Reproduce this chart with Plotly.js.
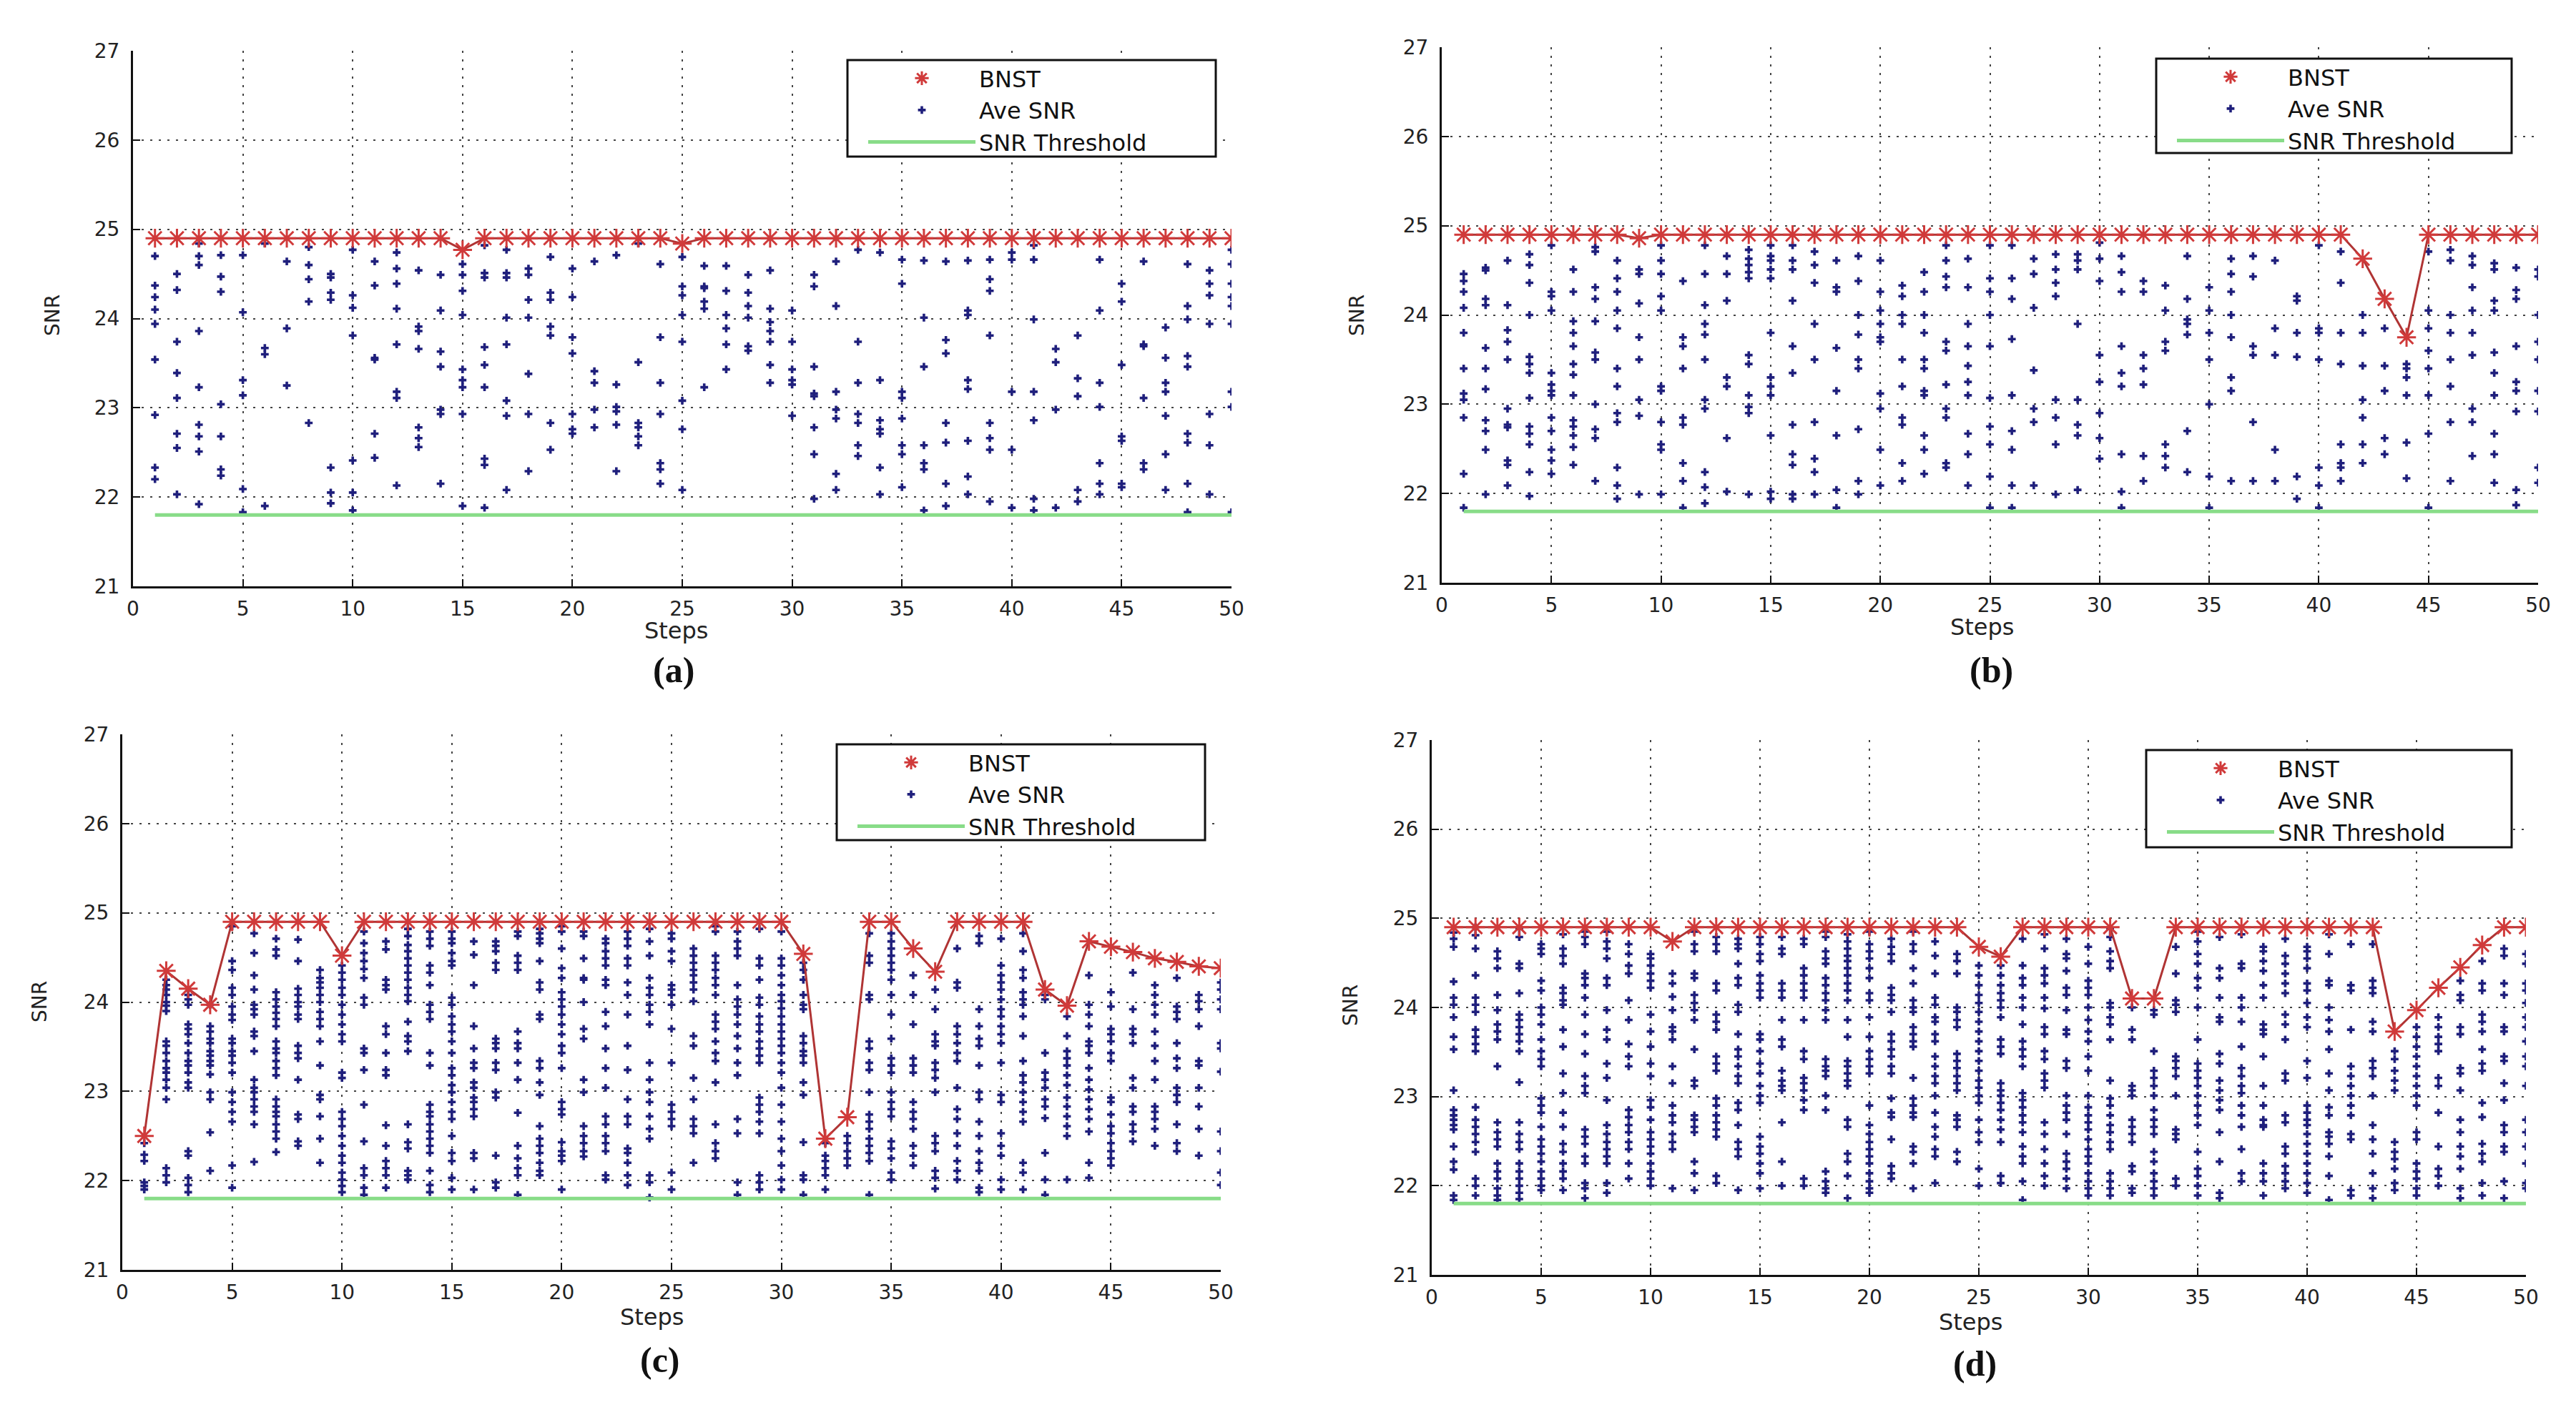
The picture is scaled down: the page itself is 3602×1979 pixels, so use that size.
<!DOCTYPE html>
<html>
<head>
<meta charset="utf-8">
<script src="https://cdn.plot.ly/plotly-3.0.1.min.js"></script>
<style>
  html, body { margin: 0; padding: 0; background: #fff; }
  #chart { width: 3602px; height: 1979px; }
</style>
</head>
<body>
<div id="chart"></div>
<script>
// -----------------------
// Data
// -----------------------
const steps = [1,2,3,4,5,6,7,8,9,10,11,12,13,14,15,16,17,18,19,20,21,22,23,24,25,
               26,27,28,29,30,31,32,33,34,35,36,37,38,39,40,41,42,43,44,45,46,47,48,49,50];
const xTicks = [0,5,10,15,20,25,30,35,40,45,50];
const yTicks = [21,22,23,24,25,26,27];
const snrThreshold = [21.8, 21.8];
const thresholdSteps = [1, 50];

const bnstA = [24.9,24.9,24.9,24.9,24.9,24.9,24.9,24.9,24.9,24.9,24.9,24.9,24.9,24.9,24.77,
               24.9,24.9,24.9,24.9,24.9,24.9,24.9,24.9,24.9,24.84,24.9,24.9,24.9,24.9,24.9,
               24.9,24.9,24.9,24.9,24.9,24.9,24.9,24.9,24.9,24.9,24.9,24.9,24.9,24.9,24.9,
               24.9,24.9,24.9,24.9,24.9];
const bnstB = [24.9,24.9,24.9,24.9,24.9,24.9,24.9,24.9,24.86,24.9,24.9,24.9,24.9,24.9,24.9,
               24.9,24.9,24.9,24.9,24.9,24.9,24.9,24.9,24.9,24.9,24.9,24.9,24.9,24.9,24.9,
               24.9,24.9,24.9,24.9,24.9,24.9,24.9,24.9,24.9,24.9,24.9,24.63,24.18,23.75,24.9,
               24.9,24.9,24.9,24.9,24.9];
const bnstC = [22.50,24.35,24.15,23.97,24.9,24.9,24.9,24.9,24.9,24.52,
               24.9,24.9,24.9,24.9,24.9,24.9,24.9,24.9,24.9,24.9,
               24.9,24.9,24.9,24.9,24.9,24.9,24.9,24.9,24.9,24.9,
               24.54,22.47,22.71,24.9,24.9,24.60,24.34,24.9,24.9,24.9,
               24.9,24.14,23.96,24.68,24.62,24.56,24.49,24.45,24.40,24.38];
const bnstD = [24.9,24.9,24.9,24.9,24.9,24.9,24.9,24.9,24.9,24.9,
               24.74,24.9,24.9,24.9,24.9,24.9,24.9,24.9,24.9,24.9,
               24.9,24.9,24.9,24.9,24.68,24.57,24.9,24.9,24.9,24.9,
               24.9,24.10,24.10,24.9,24.9,24.9,24.9,24.9,24.9,24.9,
               24.9,24.9,24.9,23.73,23.97,24.22,24.45,24.70,24.9,24.9];

// Ave SNR: one list of values per step
const aveA = [
  [24.70,24.37,24.24,24.10,23.94,23.54,22.92,22.33,22.20],
  [24.50,24.32,23.74,23.39,23.11,22.71,22.55,22.03],
  [24.84,24.70,24.60,23.86,23.23,22.81,22.68,22.51,21.92],
  [24.71,24.47,24.30,23.04,22.68,22.31,22.24],
  [24.71,24.07,23.31,23.14,22.09,21.83],
  [24.84,23.67,23.60,21.90],
  [24.64,23.89,23.25],
  [24.80,24.60,24.44,24.19,22.83],
  [24.50,24.46,24.29,24.21,22.33,22.05,21.93],
  [24.77,24.26,24.12,23.81,22.41,22.05,21.85],
  [24.64,24.37,23.56,23.54,22.71,22.44],
  [24.74,24.56,24.39,24.11,23.71,23.18,23.11,22.13],
  [24.54,23.91,23.86,23.66,22.78,22.66,22.56],
  [24.49,24.09,23.63,23.46,22.98,22.93,22.15],
  [24.61,24.49,24.31,24.04,23.43,23.31,23.23,22.93,21.90],
  [24.82,24.51,24.46,23.68,23.48,23.23,22.43,22.36,21.88],
  [24.77,24.51,24.46,24.01,23.71,23.08,22.91,22.08],
  [24.56,24.49,24.21,24.01,23.38,22.93,22.29],
  [24.69,24.29,24.21,23.91,23.81,22.83,22.53],
  [24.56,24.24,23.79,23.61,22.93,22.76,22.71],
  [24.64,23.41,23.28,22.98,22.78],
  [24.71,23.26,23.01,22.96,22.81,22.29],
  [24.84,23.51,22.83,22.78,22.68,22.58],
  [24.61,23.79,23.28,22.93,22.38,22.31,22.15],
  [24.69,24.36,24.26,24.04,23.74,23.08,22.76,22.08],
  [24.59,24.36,24.34,24.19,24.11,23.23],
  [24.59,24.31,24.04,23.89,23.71,23.43],
  [24.49,24.29,24.14,24.01,23.69,23.64],
  [24.54,24.11,23.96,23.86,23.74,23.48,23.28],
  [24.09,23.74,23.43,23.31,23.26,22.91],
  [24.49,24.36,23.46,23.16,23.13,22.78,22.48,21.98],
  [24.64,24.14,23.18,22.98,22.88,22.26,22.08],
  [24.77,23.74,23.28,22.93,22.83,22.58,22.46],
  [24.74,23.31,22.86,22.76,22.71,22.33,22.03],
  [24.66,24.39,23.18,23.11,22.88,22.58,22.48,22.11],
  [24.65,24.01,23.46,22.58,22.38,22.31,21.85],
  [24.64,23.76,23.61,22.83,22.61,22.15,21.90],
  [24.65,24.09,24.04,23.31,23.21,22.63,22.23,22.03],
  [24.66,24.44,24.31,23.81,22.83,22.66,22.53,21.95],
  [24.74,24.66,23.18,22.53,21.88],
  [24.82,24.66,23.99,23.18,22.86,21.98,21.85],
  [23.66,23.51,22.98,21.88],
  [23.81,23.33,23.13,22.08,21.95],
  [24.66,24.09,23.28,23.01,22.38,22.15,22.03],
  [24.39,24.19,23.48,22.68,22.63,22.15,22.11],
  [24.64,23.71,23.69,23.11,22.38,22.31],
  [23.90,23.56,23.28,23.18,22.91,22.48,22.08],
  [24.61,24.14,23.99,23.58,23.46,22.71,22.61,22.15,21.83],
  [24.54,24.39,24.26,23.94,22.93,22.58,22.03],
  [24.77,24.61,24.39,24.24,24.14,23.94,23.18,23.01,21.83]
];

const aveB = [
  [24.46,24.38,24.26,24.08,23.80,23.40,23.12,23.05,22.85,22.22,21.84],
  [24.53,24.50,24.18,24.11,23.63,23.40,23.17,22.82,22.70,22.49,21.99],
  [24.61,24.11,23.83,23.70,23.50,22.95,22.77,22.74,22.37,22.32,22.09],
  [24.68,24.56,24.36,24.00,23.53,23.45,23.35,23.07,22.75,22.67,22.55,22.24,21.97],
  [24.78,24.26,24.21,24.05,23.35,23.22,23.15,23.10,22.85,22.70,22.49,22.37,22.22],
  [24.51,24.26,23.93,23.80,23.65,23.45,23.33,23.10,22.82,22.75,22.65,22.52,22.32],
  [24.76,24.71,24.31,24.18,23.93,23.58,23.50,23.00,22.72,22.62,22.14],
  [24.61,24.41,24.26,24.05,23.85,23.40,23.20,22.90,22.80,22.29,22.09,21.94],
  [24.51,24.46,24.13,23.75,23.50,23.05,22.87,21.99],
  [24.78,24.61,24.46,24.21,24.05,23.20,23.15,22.80,22.55,22.49,21.99],
  [24.38,23.75,23.65,23.40,22.85,22.77,22.34,22.14,21.84],
  [24.78,24.46,24.11,23.90,23.78,23.50,23.05,22.95,22.24,22.07,21.89],
  [24.66,24.46,24.16,23.30,23.20,22.62,22.02],
  [24.73,24.63,24.56,24.48,24.41,23.55,23.45,23.10,22.97,22.90,21.99],
  [24.78,24.66,24.61,24.51,24.41,23.80,23.30,23.20,23.10,22.65,22.02,21.94],
  [24.78,24.61,24.51,24.16,23.65,23.35,22.77,22.44,22.32,21.99,21.94],
  [24.71,24.56,24.36,23.90,23.50,22.80,22.39,22.24,21.99],
  [24.61,24.31,24.26,23.63,23.15,22.65,22.04,21.84],
  [24.66,24.38,24.00,23.78,23.50,23.40,22.72,22.14,21.99],
  [24.61,24.26,24.05,23.90,23.75,23.70,23.12,22.95,22.49,22.09],
  [24.33,24.21,24.00,23.90,23.50,23.20,22.85,22.77,22.34,22.14],
  [24.48,24.26,24.00,23.80,23.50,23.40,23.15,23.10,22.65,22.49,22.22],
  [24.78,24.61,24.43,24.31,23.70,23.60,23.22,22.95,22.85,22.34,22.29],
  [24.63,24.31,23.90,23.65,23.43,23.25,23.10,22.67,22.44,22.09],
  [24.78,24.41,24.26,24.00,23.65,23.07,22.75,22.55,22.19,21.84],
  [24.78,24.41,24.18,23.73,23.10,22.70,22.49,22.09,21.84],
  [24.63,24.46,24.08,23.38,22.95,22.80,22.09],
  [24.68,24.51,24.36,24.21,23.05,22.85,22.55,21.99],
  [24.68,24.61,24.51,23.90,23.05,22.77,22.65,22.04],
  [24.81,24.63,24.38,23.55,23.25,22.90,22.62,22.39],
  [24.66,24.48,24.26,23.65,23.35,23.20,22.44,22.02,21.84],
  [24.38,24.26,23.55,23.40,23.22,22.42,22.14],
  [24.33,24.05,23.70,23.60,22.55,22.42,22.29],
  [24.66,24.18,23.95,23.90,23.78,22.70,22.24],
  [24.31,24.05,23.80,23.50,23.00,22.19,21.84],
  [24.63,24.46,24.26,24.00,23.75,23.30,23.15,22.14],
  [24.66,24.43,23.65,23.55,22.80,22.14],
  [24.61,23.85,23.55,22.49,22.14],
  [24.21,24.16,23.80,23.53,22.19,21.94],
  [24.78,23.85,23.80,23.50,22.29,22.09,21.84],
  [24.71,24.36,23.80,23.45,22.55,22.34,22.29,22.14],
  [24.00,23.80,23.43,23.05,22.85,22.55,22.34],
  [23.85,23.43,23.15,22.62,22.44],
  [23.45,23.40,23.30,23.10,22.57,22.17],
  [24.71,24.05,23.85,23.60,23.40,23.10,22.67,21.84],
  [24.73,24.61,24.00,23.80,23.50,23.20,22.80,22.14],
  [24.66,24.56,24.31,24.05,23.80,23.55,22.95,22.80,22.42],
  [24.58,24.51,24.16,24.05,23.58,23.35,23.10,22.67,22.44,22.12],
  [24.53,24.28,24.18,23.65,23.25,23.15,22.92,22.04,21.87],
  [24.51,24.43,24.00,23.70,23.50,23.15,22.92,22.29,22.12]
];

const aveC = [
  [22.42,22.29,22.22,21.98,21.94,21.90],
  [24.25,24.19,24.14,24.08,24.00,23.96,23.90,23.56,23.51,23.43,23.34,23.26,23.21,23.13,23.04,22.91,22.14,22.06,21.98],
  [24.08,24.03,23.97,23.75,23.70,23.64,23.54,23.43,23.34,23.29,23.21,23.10,23.04,22.33,22.28,22.03,21.95,21.87],
  [23.97,23.73,23.67,23.59,23.54,23.45,23.40,23.34,23.29,23.19,22.99,22.91,22.54,22.11],
  [24.85,24.46,24.36,24.16,24.08,23.95,23.86,23.80,23.59,23.54,23.45,23.40,23.32,23.21,22.99,22.88,22.77,22.66,22.17,21.92],
  [24.77,24.55,24.30,24.14,23.97,23.92,23.86,23.67,23.62,23.45,23.13,23.04,22.99,22.91,22.83,22.77,22.63,22.21],
  [24.71,24.59,24.52,24.11,24.03,23.95,23.88,23.81,23.73,23.56,23.48,23.43,23.34,23.26,23.18,22.91,22.83,22.77,22.72,22.63,22.55,22.47,22.32],
  [24.70,24.46,24.15,24.08,24.00,23.95,23.86,23.81,23.51,23.43,23.37,23.13,22.74,22.69,22.44,22.39],
  [24.36,24.27,24.22,24.16,24.08,24.00,23.89,23.81,23.73,23.56,23.29,22.96,22.91,22.72,22.47,22.20],
  [24.41,24.33,24.25,24.16,24.08,23.97,23.86,23.75,23.64,23.56,23.21,23.15,22.77,22.69,22.61,22.50,22.39,22.28,22.20,22.09,22.01,21.94,21.87],
  [24.79,24.66,24.55,24.46,24.37,24.27,24.05,23.97,23.48,23.43,23.24,22.85,22.44,22.14,22.06,21.92,21.84],
  [24.68,24.59,24.25,24.19,24.14,23.73,23.64,23.43,23.24,23.18,22.62,22.39,22.22,22.14,22.06,21.92],
  [24.82,24.74,24.64,24.57,24.49,24.41,24.33,24.25,24.16,24.08,24.01,23.78,23.62,23.56,23.45,22.63,22.43,22.36,22.11,22.06,22.01],
  [24.79,24.71,24.63,24.41,24.33,24.19,23.97,23.89,23.81,23.43,23.29,22.85,22.77,22.72,22.63,22.55,22.47,22.39,22.31,22.11,21.95,21.87],
  [24.79,24.71,24.66,24.55,24.46,24.41,24.05,23.97,23.84,23.75,23.67,23.56,23.43,23.26,23.18,23.07,22.99,22.88,22.77,22.69,22.50,22.31,22.22,22.03,21.90],
  [24.68,24.53,24.19,23.73,23.48,23.32,23.26,23.10,23.04,22.93,22.88,22.80,22.72,22.31,22.25,21.90],
  [24.68,24.63,24.57,24.44,24.36,23.59,23.54,23.48,23.32,23.24,22.99,22.93,22.28,21.98,21.92],
  [24.79,24.74,24.52,24.44,24.36,23.67,23.54,23.48,23.32,23.13,22.76,22.39,22.25,22.14,22.06,21.84],
  [24.82,24.77,24.71,24.66,24.46,24.22,24.14,23.86,23.81,23.34,23.26,23.10,22.96,22.61,22.47,22.39,22.31,22.20,22.11,22.06],
  [24.85,24.79,24.60,24.38,24.27,24.11,24.03,23.95,23.86,23.75,23.64,23.51,23.43,23.26,22.88,22.80,22.74,22.43,22.33,22.28,22.22,21.90],
  [24.79,24.74,24.49,24.27,24.25,24.00,23.70,23.59,23.13,22.99,22.61,22.50,22.42,22.33,22.27],
  [24.71,24.66,24.57,24.49,24.41,24.25,24.19,23.89,23.73,23.48,23.26,23.04,22.72,22.63,22.50,22.42,22.33,22.06,22.01],
  [24.79,24.71,24.63,24.49,24.41,24.22,24.08,23.86,23.51,23.24,22.91,22.72,22.63,22.36,22.31,22.20,22.06,21.95],
  [24.82,24.68,24.52,24.27,24.16,24.08,23.97,23.89,23.75,23.32,23.13,22.99,22.88,22.72,22.58,22.47,22.06,21.98,21.81],
  [24.77,24.71,24.57,24.46,24.19,24.14,24.08,23.97,23.70,23.32,22.85,22.77,22.69,22.61,22.09,21.90],
  [24.60,24.52,24.44,24.36,24.30,24.22,24.14,24.01,23.62,23.51,23.15,22.91,22.69,22.61,22.53,22.20],
  [24.85,24.79,24.52,24.44,24.36,24.27,24.19,24.08,23.86,23.78,23.70,23.56,23.43,23.34,23.10,22.63,22.42,22.33,22.25],
  [24.79,24.68,24.60,24.52,24.19,24.03,23.95,23.86,23.75,23.62,23.48,23.32,23.18,22.69,22.53,21.98,21.84],
  [24.82,24.49,24.41,24.25,24.05,23.97,23.84,23.75,23.67,23.56,23.48,23.40,23.32,22.93,22.85,22.77,22.66,22.53,22.06,21.98,21.90],
  [24.79,24.49,24.41,24.30,24.19,24.08,24.01,23.93,23.84,23.75,23.67,23.59,23.51,23.43,23.32,23.21,23.04,22.85,22.66,22.47,22.33,22.17,22.01,21.90],
  [24.44,24.36,24.25,24.08,23.97,23.92,23.62,23.54,23.45,23.40,23.32,23.10,22.96,22.43,22.06,22.01,21.84],
  [22.42,22.28,22.22,22.14,22.06,21.90],
  [22.50,22.42,22.33,22.25,22.17],
  [24.77,24.52,24.44,24.08,24.03,23.56,23.48,23.32,23.24,22.99,22.74,22.66,22.58,22.47,22.39,22.31,22.22,21.84],
  [24.77,24.68,24.60,24.52,24.44,24.36,24.25,24.08,23.86,23.59,23.37,23.29,23.21,22.99,22.88,22.80,22.72,22.44,22.36,22.25,22.09,22.01],
  [24.30,24.08,23.75,23.37,23.29,23.21,22.88,22.77,22.69,22.58,22.39,22.28,22.17],
  [24.14,23.92,23.64,23.56,23.51,23.32,23.24,23.15,22.99,22.50,22.42,22.33,22.11,22.03,21.91],
  [24.60,24.22,24.16,23.73,23.64,23.54,23.43,23.34,23.04,22.80,22.69,22.53,22.39,22.22,22.11,22.01],
  [24.74,24.66,23.92,23.73,23.59,23.51,23.29,22.99,22.91,22.66,22.50,22.33,22.20,22.11,21.92,21.87],
  [24.71,24.41,24.30,24.22,24.14,24.03,23.92,23.84,23.73,23.64,23.54,23.32,22.96,22.88,22.53,22.39,22.28,22.01,21.90],
  [24.77,24.57,24.36,24.27,24.11,24.03,23.97,23.84,23.62,23.34,23.18,23.10,22.99,22.88,22.77,22.66,22.20,22.09,21.90],
  [24.08,24.03,23.43,23.21,23.13,23.04,22.91,22.83,22.70,22.31,22.01,21.84],
  [23.84,23.62,23.45,23.37,23.29,23.18,23.07,22.93,22.83,22.72,22.61,22.50,22.01],
  [24.30,23.97,23.86,23.73,23.56,23.51,23.43,23.26,23.13,23.02,22.91,22.80,22.69,22.55,22.20,22.03],
  [24.11,23.95,23.70,23.64,23.56,23.43,23.34,22.93,22.88,22.74,22.61,22.53,22.42,22.33,22.25,22.17],
  [24.33,23.92,23.70,23.64,23.54,23.15,23.04,22.83,22.77,22.63,22.55,22.44],
  [24.19,24.08,23.97,23.86,23.67,23.51,23.34,23.13,22.83,22.77,22.69,22.58,22.39],
  [24.27,23.95,23.89,23.81,23.54,23.37,23.26,23.04,22.96,22.88,22.63,22.42,22.33],
  [24.08,24.01,23.92,23.73,23.34,23.29,23.04,22.83,22.58,22.28],
  [24.22,24.14,24.03,23.92,23.54,23.48,23.22,22.55,22.33,22.09,21.95]
];

const aveD = [
  [24.84,24.77,24.68,24.29,24.11,24.03,23.89,23.67,23.53,23.07,22.85,22.79,22.74,22.68,22.63,22.44,22.27,22.18,21.89,21.84],
  [24.90,24.81,24.66,24.36,24.11,24.03,23.95,23.75,23.67,23.59,23.51,22.88,22.74,22.66,22.58,22.49,22.38,22.08,22.00,21.89],
  [24.63,24.55,24.44,24.14,23.97,23.81,23.73,23.64,23.34,22.71,22.60,22.52,22.44,22.25,22.16,22.08,21.97,21.89,21.84],
  [24.88,24.79,24.49,24.44,24.16,23.92,23.86,23.78,23.70,23.62,23.51,23.16,22.71,22.58,22.49,22.41,22.25,22.16,22.08,22.00,21.92,21.85],
  [24.71,24.66,24.60,24.30,24.19,24.00,23.92,23.81,23.64,23.51,23.42,23.34,22.98,22.90,22.82,22.66,22.52,22.44,22.36,22.27,22.16,22.08,22.00,21.95],
  [24.82,24.66,24.58,24.49,24.22,24.16,24.08,24.03,23.75,23.56,23.26,23.04,22.82,22.66,22.47,22.38,22.25,22.16,22.08,21.95],
  [24.85,24.79,24.71,24.38,24.33,24.25,24.11,23.92,23.70,23.48,23.23,23.12,23.04,22.63,22.55,22.47,22.33,22.25,22.03,21.97,21.86],
  [24.85,24.74,24.66,24.55,24.33,24.25,23.97,23.75,23.64,23.37,23.21,22.96,22.68,22.58,22.49,22.41,22.33,22.25,22.03,21.92],
  [24.71,24.60,24.47,24.38,24.08,23.86,23.59,23.45,23.34,22.85,22.77,22.68,22.60,22.49,22.41,22.25,22.08],
  [24.60,24.55,24.47,24.38,24.30,24.22,23.92,23.73,23.56,23.37,23.23,22.96,22.88,22.74,22.60,22.52,22.44,22.36,22.25,22.16,22.08,22.00],
  [24.38,24.27,24.12,23.97,23.78,23.73,23.64,23.34,23.15,22.90,22.79,22.71,22.58,22.49,22.41,21.97],
  [24.85,24.71,24.63,24.38,24.33,24.14,24.05,23.97,23.86,23.53,23.18,23.12,22.79,22.74,22.66,22.60,22.27,22.14,21.95],
  [24.79,24.71,24.63,24.27,24.19,23.92,23.84,23.75,23.45,23.37,23.29,22.98,22.90,22.79,22.71,22.63,22.55,22.11,22.03],
  [24.77,24.71,24.66,24.49,24.33,24.25,24.03,23.95,23.70,23.53,23.45,23.34,23.23,23.15,22.93,22.85,22.68,22.49,22.41,22.33,21.95],
  [24.79,24.71,24.60,24.52,24.36,24.27,24.19,24.11,23.70,23.64,23.51,23.37,23.26,23.12,23.01,22.93,22.55,22.44,22.36,22.25,22.14,21.97],
  [24.79,24.66,24.60,24.27,24.19,24.11,23.86,23.64,23.56,23.29,23.18,23.12,23.07,22.71,22.27,22.00],
  [24.77,24.71,24.44,24.36,24.27,24.19,24.11,23.86,23.51,23.42,23.21,23.15,23.07,22.96,22.85,22.08,22.00],
  [24.85,24.79,24.63,24.55,24.49,24.33,24.25,24.16,24.08,23.97,23.86,23.42,23.34,23.29,23.23,23.01,22.85,22.16,22.05,21.97,21.92],
  [24.82,24.74,24.66,24.58,24.52,24.44,24.36,24.27,24.19,24.08,23.86,23.67,23.40,23.34,23.26,23.18,23.12,22.74,22.66,22.36,22.27,22.11,21.86],
  [24.85,24.71,24.63,24.55,24.44,24.33,24.16,24.08,23.89,23.67,23.51,23.42,23.34,23.26,22.90,22.68,22.58,22.49,22.41,22.33,22.25,22.14,22.05,21.97,21.92],
  [24.77,24.68,24.60,24.52,24.22,24.14,24.08,23.95,23.70,23.62,23.53,23.45,23.34,23.26,22.98,22.82,22.77,22.52,22.22,22.14,22.08],
  [24.85,24.71,24.63,24.44,24.27,24.08,24.00,23.95,23.78,23.70,23.62,23.56,23.21,22.98,22.90,22.82,22.77,22.44,22.38,22.25,21.97],
  [24.74,24.58,24.38,24.11,24.03,23.89,23.84,23.70,23.62,23.45,23.34,23.23,23.15,23.01,22.82,22.66,22.55,22.41,22.33,22.03],
  [24.60,24.52,24.38,24.00,23.95,23.86,23.78,23.48,23.40,23.32,23.23,23.15,23.07,22.79,22.74,22.66,22.38,22.27],
  [24.47,24.36,24.25,24.14,24.05,23.95,23.84,23.73,23.62,23.51,23.40,23.29,23.18,23.10,23.01,22.93,22.74,22.60,22.49,22.19,22.00],
  [24.47,24.36,24.25,24.16,24.08,24.00,23.89,23.64,23.56,23.48,23.15,23.07,23.01,22.93,22.85,22.74,22.63,22.49,22.11,22.03],
  [24.77,24.47,24.33,24.25,24.11,24.00,23.81,23.62,23.53,23.45,23.34,23.04,22.96,22.88,22.79,22.71,22.60,22.44,22.33,22.25,22.05,21.84],
  [24.82,24.66,24.44,24.36,24.27,24.11,23.99,23.78,23.70,23.51,23.42,23.26,23.18,23.10,22.71,22.58,22.41,22.25,22.11,22.00],
  [24.77,24.60,24.55,24.41,24.22,24.14,23.97,23.75,23.70,23.40,23.32,23.01,22.90,22.82,22.74,22.58,22.36,22.27,22.19,22.08,21.97],
  [24.68,24.49,24.30,24.22,24.14,24.00,23.86,23.73,23.62,23.45,23.29,23.01,22.88,22.79,22.71,22.63,22.52,22.41,22.33,22.25,22.14,22.05,21.97,21.89],
  [24.88,24.79,24.63,24.52,24.44,24.05,24.00,23.89,23.81,23.64,23.18,22.98,22.90,22.79,22.68,22.60,22.49,22.41,22.14,22.05,21.97,21.89],
  [24.00,23.75,23.64,23.12,23.07,23.01,22.74,22.66,22.58,22.49,22.22,22.16,21.97,21.92],
  [23.97,23.92,23.51,23.29,23.21,23.12,23.01,22.85,22.74,22.66,22.58,22.38,22.27,22.14,22.05,21.97,21.89],
  [24.68,24.38,24.08,24.03,23.95,23.45,23.40,23.32,23.23,23.01,22.63,22.58,22.52,22.08,22.00],
  [24.85,24.74,24.60,24.49,24.33,24.22,24.00,23.64,23.37,23.29,23.21,23.12,23.01,22.90,22.79,22.68,22.38,22.19,22.11,22.00,21.89],
  [24.79,24.44,24.33,24.11,23.89,23.84,23.48,23.37,23.18,23.07,22.96,22.85,22.60,22.27,21.92,21.86],
  [24.82,24.49,24.44,24.11,24.00,23.84,23.56,23.32,23.23,23.12,23.04,22.90,22.79,22.66,22.41,22.14,22.05],
  [24.68,24.63,24.52,24.41,24.25,24.11,23.81,23.75,23.70,23.45,23.12,22.90,22.74,22.68,22.66,22.25,22.14,22.05,21.89],
  [24.77,24.58,24.49,24.38,24.27,24.16,23.92,23.81,23.64,23.26,23.18,22.79,22.71,22.44,22.36,22.22,22.14,22.05,21.97],
  [24.68,24.63,24.55,24.44,24.27,24.19,24.05,23.89,23.78,23.40,23.21,22.90,22.82,22.74,22.68,22.58,22.47,22.36,22.25,22.14,22.03,21.92],
  [24.82,24.60,24.30,24.25,24.00,23.86,23.73,23.53,23.26,23.07,22.88,22.79,22.60,22.55,22.47,22.33,22.11,21.84],
  [24.71,24.25,24.19,23.75,23.34,23.23,23.12,23.01,22.90,22.79,22.58,22.52,21.95,21.89],
  [24.71,24.30,24.22,24.16,23.84,23.73,23.40,23.32,23.23,23.01,22.68,22.52,22.36,22.14,21.97,21.86],
  [23.51,23.42,23.29,23.18,23.07,22.49,22.38,22.30,22.19,22.03,21.95],
  [23.78,23.67,23.56,23.45,23.34,23.23,23.12,23.01,22.90,22.60,22.52,22.25,22.16,22.08,21.97,21.89],
  [23.89,23.78,23.67,23.59,23.51,23.21,23.12,22.82,22.44,22.19,22.11,22.00],
  [24.30,24.14,24.08,23.78,23.70,23.32,23.26,23.07,22.74,22.60,22.44,22.33,22.19,21.97,21.86],
  [24.52,24.27,24.19,23.92,23.84,23.73,23.53,23.37,23.29,22.93,22.77,22.47,22.36,22.27,22.03,21.89],
  [24.66,24.58,24.27,24.14,23.78,23.73,23.45,23.40,23.15,22.96,22.68,22.60,22.44,22.38,22.05,21.86],
  [24.60,24.49,24.27,24.19,24.05,23.89,23.78,23.62,23.45,23.34,23.12,22.74,22.60,22.44,22.25,22.03,21.97]
];

// -----------------------
// Styling
// -----------------------
const W = 3602, H = 1979;
const FONT = "DejaVu Sans, Liberation Sans, Arial, sans-serif";
const RED_LINE = "#b03434";
const RED_MARK = "#d03a3a";
const BLUE = "#1f1f7c";
const GREEN = "#88dc88";

const px = (v) => v / W;        // pixel -> paper x
const py = (v) => 1 - v / H;    // pixel (from top) -> paper y

// panel geometry in page pixels: plot box, legend box, label centres
const panels = [
  { tag: "(a)", bnst: bnstA, ave: aveA, ax: "",  plot: [186, 1722, 71, 820],
    box: [1185, 1700, 84, 219], steps: [946, 882], snr: [73, 441], lab: [942, 937] },
  { tag: "(b)", bnst: bnstB, ave: aveB, ax: "2", plot: [2016, 3549, 66, 815],
    box: [3015, 3512, 82, 214], steps: [2772, 877], snr: [1897, 441], lab: [2784, 937] },
  { tag: "(c)", bnst: bnstC, ave: aveC, ax: "3", plot: [171, 1707, 1027, 1776],
    box: [1170, 1685, 1041, 1175], steps: [912, 1842], snr: [55, 1401], lab: [923, 1902] },
  { tag: "(d)", bnst: bnstD, ave: aveD, ax: "4", plot: [2002, 3532, 1035, 1783],
    box: [3001, 3512, 1049, 1185], steps: [2756, 1849], snr: [1888, 1406], lab: [2761, 1907] }
];

function flattenCols(cols) {
  const x = [], y = [];
  cols.forEach((vals, i) => vals.forEach(v => { x.push(steps[i]); y.push(v); }));
  return { x, y };
}

const traces = [];
const layout = {
  width: W,
  height: H,
  margin: { l: 0, r: 0, t: 0, b: 0 },
  paper_bgcolor: "#ffffff",
  plot_bgcolor: "#ffffff",
  font: { family: FONT, color: "#222" },
  annotations: [],
  shapes: []
};

panels.forEach((p, k) => {
  const xa = "x" + p.ax, ya = "y" + p.ax;
  const legName = k === 0 ? "legend" : "legend" + (k + 1);
  const pts = flattenCols(p.ave);

  traces.push({
    x: pts.x, y: pts.y, xaxis: xa, yaxis: ya, type: "scatter", mode: "markers",
    name: "Ave SNR", legend: legName, legendrank: 2,
    marker: { symbol: "cross", size: 9, color: BLUE, line: { width: 0 } }
  });
  traces.push({
    x: thresholdSteps, y: snrThreshold, xaxis: xa, yaxis: ya, type: "scatter", mode: "lines",
    name: "SNR Threshold", legend: legName, legendrank: 3,
    line: { color: GREEN, width: 5 }
  });
  traces.push({
    x: steps, y: p.bnst, xaxis: xa, yaxis: ya, type: "scatter", mode: "lines",
    showlegend: false, hoverinfo: "skip",
    line: { color: RED_LINE, width: 3 }
  });
  traces.push({
    x: steps, y: p.bnst, xaxis: xa, yaxis: ya, type: "scatter", mode: "markers",
    name: "BNST", legend: legName, legendrank: 1,
    marker: { symbol: "asterisk-open", size: 22, color: RED_MARK, line: { color: RED_MARK, width: 3 } }
  });

  const axCommon = {
    showline: true, linecolor: "#111", linewidth: 3, mirror: false,
    showgrid: true, gridcolor: "#444", gridwidth: 2, griddash: "3px,9px",
    zeroline: false, ticks: "inside", ticklen: 10, tickwidth: 2, tickcolor: "#111",
    tickfont: { family: FONT, size: 28, color: "#222" }, fixedrange: true
  };
  layout["xaxis" + p.ax] = Object.assign({}, axCommon, {
    domain: [px(p.plot[0]), px(p.plot[1])], range: [0, 50],
    tickmode: "array", tickvals: xTicks, anchor: ya, ticklabelstandoff: 4
  });
  layout["yaxis" + p.ax] = Object.assign({}, axCommon, {
    domain: [py(p.plot[3]), py(p.plot[2])], range: [21, 27],
    tickmode: "array", tickvals: yTicks, anchor: xa, ticklabelstandoff: 10
  });

  // legend frame drawn as a shape so its size matches the original box
  layout.shapes.push({
    type: "rect", xref: "paper", yref: "paper", layer: "above",
    x0: px(p.box[0]), x1: px(p.box[1]), y0: py(p.box[3]), y1: py(p.box[2]),
    fillcolor: "#ffffff", line: { color: "#111", width: 3 }
  });
  layout[legName] = {
    x: px(p.box[0] + 24), y: py(p.box[2] - 2), xanchor: "left", yanchor: "top",
    bgcolor: "rgba(0,0,0,0)", borderwidth: 0,
    font: { family: FONT, size: 32, color: "#111" },
    itemwidth: 150, tracegroupgap: 0, traceorder: "normal"
  };

  layout.annotations.push(
    { text: "Steps", xref: "paper", yref: "paper", x: px(p.steps[0]), y: py(p.steps[1]),
      xanchor: "center", yanchor: "middle", showarrow: false,
      font: { family: FONT, size: 32, color: "#222" } },
    { text: "SNR", xref: "paper", yref: "paper", x: px(p.snr[0]), y: py(p.snr[1]), textangle: -90,
      xanchor: "center", yanchor: "middle", showarrow: false,
      font: { family: FONT, size: 28, color: "#222" } },
    { text: "<b>" + p.tag + "</b>", xref: "paper", yref: "paper", x: px(p.lab[0]), y: py(p.lab[1]),
      xanchor: "center", yanchor: "middle", showarrow: false,
      font: { family: "Liberation Serif, serif", size: 50, color: "#111" } }
  );
});

Plotly.newPlot("chart", traces, layout, { displayModeBar: false, staticPlot: true });
</script>
</body>
</html>
